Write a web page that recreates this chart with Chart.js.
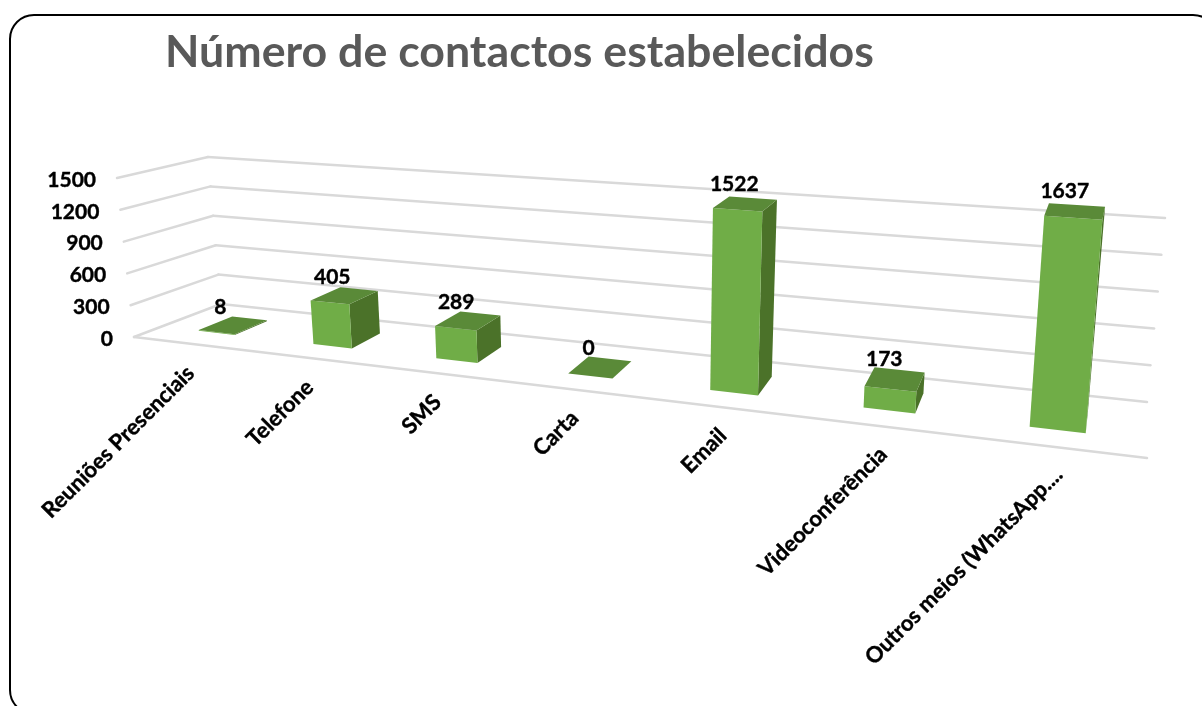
<!DOCTYPE html>
<html lang="pt">
<head>
<meta charset="utf-8">
<title>Número de contactos estabelecidos</title>
<script src="https://cdn.jsdelivr.net/npm/chart.js@4"></script>
<style>html,body{margin:0;padding:0;background:#fff}canvas{display:block}</style>
</head>
<body>
<canvas id="c" width="1202" height="706"></canvas>
<script>
const titleText = "Número de contactos estabelecidos";
const categories = ["Reuniões Presenciais","Telefone","SMS","Carta","Email","Videoconferência","Outros meios (WhatsApp...."];
const values = [8,405,289,0,1522,173,1637];
const yTicks = [0,300,600,900,1200,1500];

const FONT = 'bold 21px Lato';
const CAT_FONT = 'bold 22px Lato';
const COL = {front:'#70AD47', side:'#4B7229', top:'#5A8A38', grid:'#D9D9D9', text:'#000000', title:'#595959'};

// Box corners on screen: [u][h][d]
const C = {
  '000':[134,337], '100':[1147,458], '001':[221,304], '101':[1147,402],
  '010':[117,178], '110':[1164,253], '011':[208,157], '111':[1165,218]
};
const WU = -0.23, WD = 0.08, D0 = 0.30, D1 = 0.70;
function proj(u,h,d){
  let sx=0, sy=0, sw=0;
  for (const i of [0,1]) for (const j of [0,1]) for (const k of [0,1]) {
    const w = (1+WU*i)*(1+WD*k);
    const b = (i?u:1-u)*(j?h:1-h)*(k?d:1-d)*w;
    const p = C[''+i+j+k];
    sx += b*p[0]; sy += b*p[1]; sw += b;
  }
  return [sx/sw, sy/sw];
}
function poly(ctx,pts,fill){
  ctx.beginPath();
  pts.forEach((p,i)=> i?ctx.lineTo(p[0],p[1]):ctx.moveTo(p[0],p[1]));
  ctx.closePath(); ctx.fillStyle=fill; ctx.fill();
}
function line(ctx,a,b){ ctx.beginPath(); ctx.moveTo(a[0],a[1]); ctx.lineTo(b[0],b[1]); ctx.stroke(); }
function boldText(ctx,t,x,y){
  ctx.strokeStyle=COL.text; ctx.lineWidth=0.4; ctx.lineJoin='round';
  ctx.strokeText(t,x,y); ctx.fillText(t,x,y);
}

const scene = {
  id:'scene',
  afterLayout(chart){ chart.titleBlock.left = 165; },
  beforeDraw(chart){
    const ctx = chart.ctx;
    ctx.save();
    ctx.fillStyle='#fff'; ctx.fillRect(0,0,chart.width,chart.height);
    ctx.strokeStyle='#000'; ctx.lineWidth=2;
    ctx.beginPath(); ctx.roundRect(10,15,1207,699,24); ctx.stroke();
    ctx.restore();
  },
  beforeDatasetsDraw(chart){
    const ctx = chart.ctx, a = chart.chartArea, ys = chart.scales.y;
    ctx.save();
    ctx.lineCap='round';
    ctx.font=FONT; ctx.fillStyle=COL.text; ctx.textAlign='right'; ctx.textBaseline='middle';
    yTicks.forEach(v=>{
      const h=(a.bottom-ys.getPixelForValue(v))/(a.bottom-a.top);
      const p0=proj(0,h,0), p1=proj(0,h,1), p2=proj(1,h,1);
      ctx.strokeStyle=COL.grid; ctx.lineWidth=2.5;
      line(ctx,p0,p1); line(ctx,p1,p2);
      boldText(ctx,String(v),p0[0]-21,p0[1]+2);
    });
    ctx.strokeStyle=COL.grid; ctx.lineWidth=2.5;
    line(ctx,proj(0,0,0),proj(1,0,0));
    ctx.restore();
  },
  beforeDatasetDraw(chart,args){
    const ctx = chart.ctx, a = chart.chartArea, W=a.right-a.left, H=a.bottom-a.top;
    const els = chart.getDatasetMeta(args.index).data;
    ctx.save();
    els.forEach((el,i)=>{
      const u0=(el.x-el.width/2-a.left)/W, u1=(el.x+el.width/2-a.left)/W, uc=(el.x-a.left)/W;
      const h=(el.base-el.y)/H;
      const P=proj;
      poly(ctx,[P(u1,0,D0),P(u1,0,D1),P(u1,h,D1),P(u1,h,D0)],COL.side);
      poly(ctx,[P(u0,0,D0),P(u1,0,D0),P(u1,h,D0),P(u0,h,D0)],COL.front);
      poly(ctx,[P(u0,h,D0),P(u1,h,D0),P(u1,h,D1),P(u0,h,D1)],COL.top);
      // value label
      const top=P(uc,h,(D0+D1)/2);
      ctx.font=FONT; ctx.fillStyle=COL.text; ctx.textAlign='center'; ctx.textBaseline='middle';
      boldText(ctx,String(values[i]),top[0]-10-3*(1-uc),top[1]-20+2*(1-uc));
      // category label
      const f=P(uc,0,0);
      ctx.save();
      ctx.translate(f[0]+6*Math.pow(uc,6),f[1]+24+2*(1-uc));
      ctx.rotate(-Math.PI/4);
      ctx.font=CAT_FONT; ctx.textAlign='right';
      boldText(ctx,categories[i],0,0);
      ctx.restore();
    });
    ctx.restore();
    return false;
  }
};

new Chart(document.getElementById('c'),{
  type:'bar',
  data:{labels:categories,datasets:[{data:values,backgroundColor:COL.front,barPercentage:0.32,categoryPercentage:1}]},
  options:{
    responsive:false,animation:false,
    layout:{padding:{left:135,right:55,top:0,bottom:369}},
    scales:{
      x:{type:'category',display:false},
      y:{type:'linear',min:0,max:1500,display:false,ticks:{stepSize:300}}
    },
    plugins:{
      legend:{display:false},tooltip:{enabled:false},
      title:{display:true,text:titleText,align:'start',color:COL.title,
        font:{family:'Lato',weight:'bold',size:44.7,lineHeight:1.2},
        padding:{top:26,bottom:100}}
    }
  },
  plugins:[scene]
});
</script>
</body>
</html>
